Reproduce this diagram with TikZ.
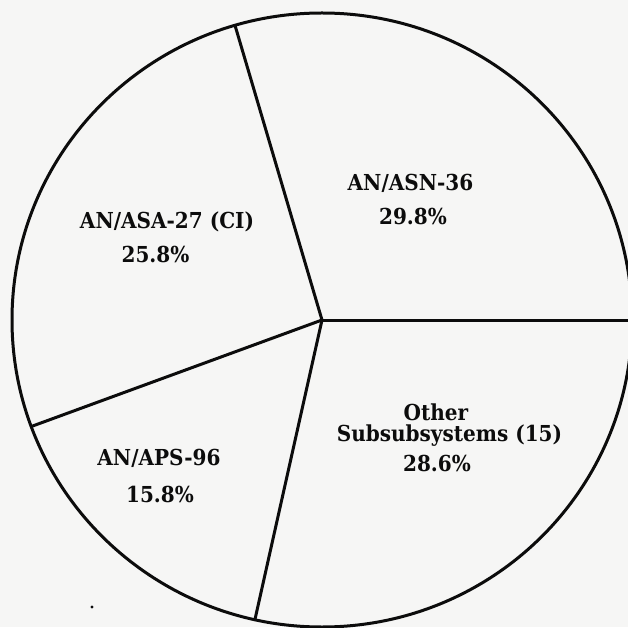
\documentclass[tikz,border=0pt]{standalone}
\usetikzlibrary{calc}
\usepackage{fontspec}
\setmainfont[FakeStretch=0.91]{DejaVu Serif}
\definecolor{paper}{RGB}{246,246,245}
\definecolor{ink}{RGB}{12,12,12}
\begin{document}
\begin{tikzpicture}[x=1pt,y=1pt,
  pieline/.style={draw=ink,line width=3pt,line cap=round},
  lbl/.style={anchor=base,inner sep=0pt,text=ink,font=\fontsize{22}{26}\selectfont\bfseries}]
\fill[paper] (0,0) rectangle (628,627);
\useasboundingbox (0,0) rectangle (628,627);
\clip (0,0) rectangle (628,627);
\coordinate (c) at (322,307);
\coordinate (p0) at ($(c)+(0:310 and 307)$);
\coordinate (p1) at ($(c)+(106.3:310 and 307)$);
\coordinate (p2) at ($(c)+(200.3:310 and 307)$);
\coordinate (p3) at ($(c)+(257.5:310 and 307)$);
\draw[pieline] (c) ellipse [x radius=310,y radius=307];
\draw[pieline] (c) -- (p0);
\draw[pieline] (c) -- (p1);
\draw[pieline] (c) -- (p2);
\draw[pieline] (c) -- (p3);
\node[lbl] (asn1) at (410.5,436) {AN/ASN-36};
\node[lbl] (asn2) at (413,402) {29.8\%};
\node[lbl] (asa1) at (167,398) {AN/ASA-27 (CI)};
\node[lbl] (asa2) at (155.5,364) {25.8\%};
\node[lbl] (aps1) at (159,162) {AN/APS-96};
\node[lbl] (aps2) at (160,125) {15.8\%};
\node[lbl] (oth1) at (436,207) {Other};
\node[lbl] (oth2) at (449.5,186) {Subsubsystems (15)};
\node[lbl] (oth3) at (437,156) {28.6\%};
\fill[ink] (92,20) circle (1.6);
\end{tikzpicture}
\end{document}
